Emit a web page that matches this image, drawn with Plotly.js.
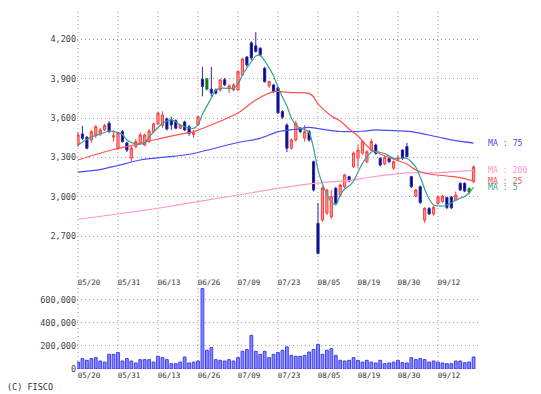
<!DOCTYPE html>
<html>
<head>
<meta charset="utf-8">
<script src="https://cdn.plot.ly/plotly-3.0.1.min.js"></script>
<style>html,body{margin:0;padding:0;background:#fff;}#chart{width:541px;height:394px;}</style>
</head>
<body>
<div id="chart"></div>
<script>
// ---- tick labels (trading-day index -> date label)
const tickPos = [0, 9, 18, 27, 36, 45, 54, 63, 72, 81];
const tickText = ['05/20', '05/31', '06/13', '06/26', '07/09', '07/23', '08/05', '08/19', '08/30', '09/12'];

// ---- daily OHLC (index 0 = 05/20)
const openP = [3394,3478,3453,3433,3471,3478,3509,3560,3455,3371,
  3496,3410,3293,3381,3407,3394,3420,3496,3555,3543,
  3593,3585,3580,3522,3570,3534,3475,3547,3895,3820,
  3820,3814,3814,3891,3822,3814,3814,3928,4066,4173,
  4150,4132,3980,3845,3852,3830,3649,3547,3369,3433,
  3522,3446,3496,3267,2797,2822,2875,2847,3064,3013,
  3076,3153,3229,3293,3331,3267,3356,3394,3293,3250,
  3293,3217,3285,3356,3382,3153,3005,3076,2822,2911,
  2868,2950,2962,2994,2998,2975,3102,3102,3036,3114];
const highP = [3494,3539,3463,3509,3547,3524,3555,3578,3509,3494,
  3509,3420,3390,3440,3490,3480,3515,3565,3649,3650,
  3605,3610,3590,3555,3580,3547,3509,3620,3990,3905,
  3990,3825,3900,3905,3860,3865,3965,4060,4070,4185,
  4254,4140,3990,3885,3860,3840,3660,3560,3445,3580,
  3530,3547,3510,3275,2952,3080,3060,3051,3075,3100,
  3175,3160,3345,3395,3430,3355,3440,3405,3300,3310,
  3300,3275,3320,3360,3410,3160,3060,3085,2920,2920,
  2930,3010,3015,3000,3005,3040,3110,3110,3070,3240];
const lowP = [3379,3433,3361,3412,3448,3463,3501,3486,3420,3356,
  3412,3340,3270,3370,3400,3385,3410,3485,3545,3524,
  3505,3509,3515,3515,3500,3465,3448,3540,3765,3810,
  3763,3780,3800,3845,3790,3805,3805,3920,3990,4040,
  4100,4070,3870,3830,3790,3630,3595,3340,3360,3420,
  3485,3420,3420,3040,2560,2810,2860,2830,2940,3000,
  3065,3110,3220,3220,3320,3255,3345,3320,3230,3240,
  3255,3205,3270,3280,3300,3065,2995,2945,2800,2860,
  2855,2940,2955,2905,2905,2965,3045,3035,3020,3105];
const closeP = [3471,3446,3369,3496,3534,3509,3542,3496,3465,3486,
  3420,3356,3372,3420,3471,3471,3501,3555,3636,3623,
  3516,3547,3522,3547,3509,3484,3488,3610,3840,3900,
  3790,3789,3890,3852,3845,3852,3954,4050,4005,4058,
  4107,4081,3877,3877,3801,3640,3606,3369,3433,3560,
  3496,3496,3433,3051,2568,3066,3051,3000,2950,3089,
  3166,3120,3333,3356,3420,3343,3420,3331,3242,3300,
  3267,3267,3295,3293,3305,3076,3051,2955,2911,2868,
  2919,3000,3005,2918,2915,3013,3051,3043,3064,3227];
// days drawn in green
const greenDays = [29, 88];

// ---- volume
const volume = [60000,90000,75000,90000,98000,69000,60000,127000,127000,142000,
  69000,90000,69000,52000,81000,81000,81000,60000,110000,98000,
  81000,46000,46000,60000,104000,52000,60000,69000,695000,162000,
  185000,81000,75000,69000,81000,69000,98000,153000,168000,291000,
  153000,127000,153000,98000,127000,142000,162000,191000,118000,110000,
  110000,118000,147000,168000,213000,127000,162000,176000,118000,75000,
  69000,75000,98000,75000,60000,75000,60000,52000,75000,46000,
  52000,60000,75000,55000,52000,98000,81000,90000,81000,60000,
  69000,60000,52000,46000,46000,69000,69000,55000,60000,104000];

// ---- moving averages (day index, value)
const ma5Day = [0,3,5,7,8,10,11,13,14,15,16,18,19,21,22,23,25,26,27,28,30,31,32,34,35,36,37,39,40,41,42,43,44,45,46,47,48,49,50,51,52,53,54,55,56,57,58,59,60,61,62,63,64,65,66,67,68,69,70,71,72,73,74,75,76,77,78,79,80,81,82,83,84,85,86,87,88,89];
const ma5Val = [3394,3455,3478,3501,3496,3474,3432,3402,3400,3409,3455,3528,3558,3585,3570,3547,3524,3521,3547,3628,3752,3813,3826,3826,3826,3859,3928,4029,4073,4077,4035,3982,3920,3836,3760,3691,3600,3547,3521,3512,3489,3371,3204,3097,3021,2960,2937,3013,3059,3082,3120,3188,3253,3303,3341,3345,3337,3329,3310,3293,3293,3293,3293,3265,3226,3150,3059,2982,2937,2929,2929,2937,2952,2975,2988,3002,3028,3074];
const ma25Day = [0,4,8,13,17,22,26,31,36,40,44,48,52,53,54,57,59,61,63,65,67,70,74,76,79,83,86,89];
const ma25Val = [3280,3322,3360,3398,3432,3470,3496,3562,3638,3737,3801,3794,3788,3762,3707,3615,3577,3516,3463,3387,3341,3299,3249,3204,3173,3158,3146,3120];
const ma75Day = [0,5,9,14,20,24,27,36,41,45,49,52,56,59,64,67,70,75,81,85,89];
const ma75Val = [3188,3207,3238,3280,3303,3318,3337,3413,3445,3496,3514,3528,3509,3497,3499,3509,3505,3496,3455,3427,3409];
const ma200Day = [0,9,18,27,36,45,53,60,66,74,81,89];
const ma200Val = [2828,2868,2912,2963,3013,3064,3102,3120,3150,3181,3183,3200];

const maDefs = [
  {label: 'MA : 75', day: ma75Day, val: ma75Val, color: '#4b4bff'},
  {label: 'MA : 200', day: ma200Day, val: ma200Val, color: '#ff99cc'},
  {label: 'MA : 25', day: ma25Day, val: ma25Val, color: '#ff4f4f'},
  {label: 'MA : 5', day: ma5Day, val: ma5Val, color: '#3a9e9a'}
];

const dayIdx = openP.map((_, i) => i);
const mainIdx = dayIdx.filter(i => greenDays.indexOf(i) < 0);
const pick = (arr, idx) => idx.map(i => arr[i]);

const mono = 'DejaVu Sans Mono, monospace';
const traces = [];

// MA lines first (behind candles)
maDefs.forEach(m => {
  traces.push({type: 'scatter', mode: 'lines', x: m.day, y: m.val, xaxis: 'x', yaxis: 'y',
    line: {color: m.color, width: 1.2, shape: 'spline', smoothing: 0.8}, hoverinfo: 'skip'});
});

traces.push({type: 'candlestick', xaxis: 'x', yaxis: 'y',
  x: mainIdx, open: pick(openP, mainIdx), high: pick(highP, mainIdx), low: pick(lowP, mainIdx), close: pick(closeP, mainIdx),
  increasing: {line: {color: '#ff3b3b', width: 1}, fillcolor: '#ff9a9a'},
  decreasing: {line: {color: '#2a2aa8', width: 1}, fillcolor: '#00007a'},
  whiskerwidth: 0, hoverinfo: 'skip'});

traces.push({type: 'candlestick', xaxis: 'x', yaxis: 'y',
  x: greenDays, open: pick(openP, greenDays), high: pick(highP, greenDays), low: pick(lowP, greenDays), close: pick(closeP, greenDays),
  increasing: {line: {color: '#2f8f2f', width: 1}, fillcolor: '#0a5c0a'},
  decreasing: {line: {color: '#2f8f2f', width: 1}, fillcolor: '#0a5c0a'},
  whiskerwidth: 0, hoverinfo: 'skip'});

traces.push({type: 'bar', xaxis: 'x2', yaxis: 'y2', x: dayIdx, y: volume, width: 0.62,
  marker: {color: '#8a8aff', line: {color: '#3c3cf0', width: 1}}, hoverinfo: 'skip'});

const shapes = tickPos.map(t => ({type: 'line', xref: 'x', yref: 'paper', x0: t, x1: t, y0: 0, y1: 1,
  line: {color: '#a0a0a0', width: 1, dash: '1px,3px'}, layer: 'below'}));

const annotations = maDefs.map(m => ({xref: 'paper', yref: 'y', x: 1.0225, y: m.val[m.val.length - 1],
  text: m.label, showarrow: false, xanchor: 'left', yanchor: 'middle', borderpad: 0,
  font: {family: mono, size: 8.2, color: m.color}}));
annotations.push({xref: 'paper', yref: 'paper', x: -0.18, y: -0.05, text: '(C) FISCO', showarrow: false,
  xanchor: 'left', yanchor: 'middle', font: {family: mono, size: 8.5, color: '#333'}});

const xCommon = {range: [-0.225, 90], tickvals: tickPos, ticktext: tickText, showgrid: false, zeroline: false,
  showline: false, ticks: '', tickfont: {family: mono, size: 7.5, color: '#333'}, ticklabelshift: 11, fixedrange: true};

const layout = {
  width: 541, height: 394,
  margin: {l: 77, r: 63, t: 9, b: 25},
  paper_bgcolor: '#ffffff', plot_bgcolor: '#ffffff',
  showlegend: false,
  xaxis: Object.assign({}, xCommon, {anchor: 'y', domain: [0, 1], rangeslider: {visible: false}}),
  xaxis2: Object.assign({}, xCommon, {anchor: 'y2', domain: [0, 1], rangeslider: {visible: false}}),
  yaxis: {domain: [0.2556, 1], range: [2388, 4431], tickvals: [2700, 3000, 3300, 3600, 3900, 4200], tickformat: ',d',
    showgrid: true, gridcolor: '#a0a0a0', griddash: '1px,3px', zeroline: false, showline: false, ticks: '',
    tickfont: {family: mono, size: 8.5, color: '#444'}, fixedrange: true},
  yaxis2: {domain: [0, 0.225], range: [0, 700000], tickvals: [0, 200000, 400000, 600000], tickformat: ',d',
    showgrid: true, gridcolor: '#a0a0a0', griddash: '1px,3px', zeroline: false, showline: false, ticks: '',
    tickfont: {family: mono, size: 8.5, color: '#444'}, fixedrange: true},
  shapes: shapes,
  annotations: annotations
};

Plotly.newPlot('chart', traces, layout, {displayModeBar: false, staticPlot: true});
</script>
</body>
</html>
